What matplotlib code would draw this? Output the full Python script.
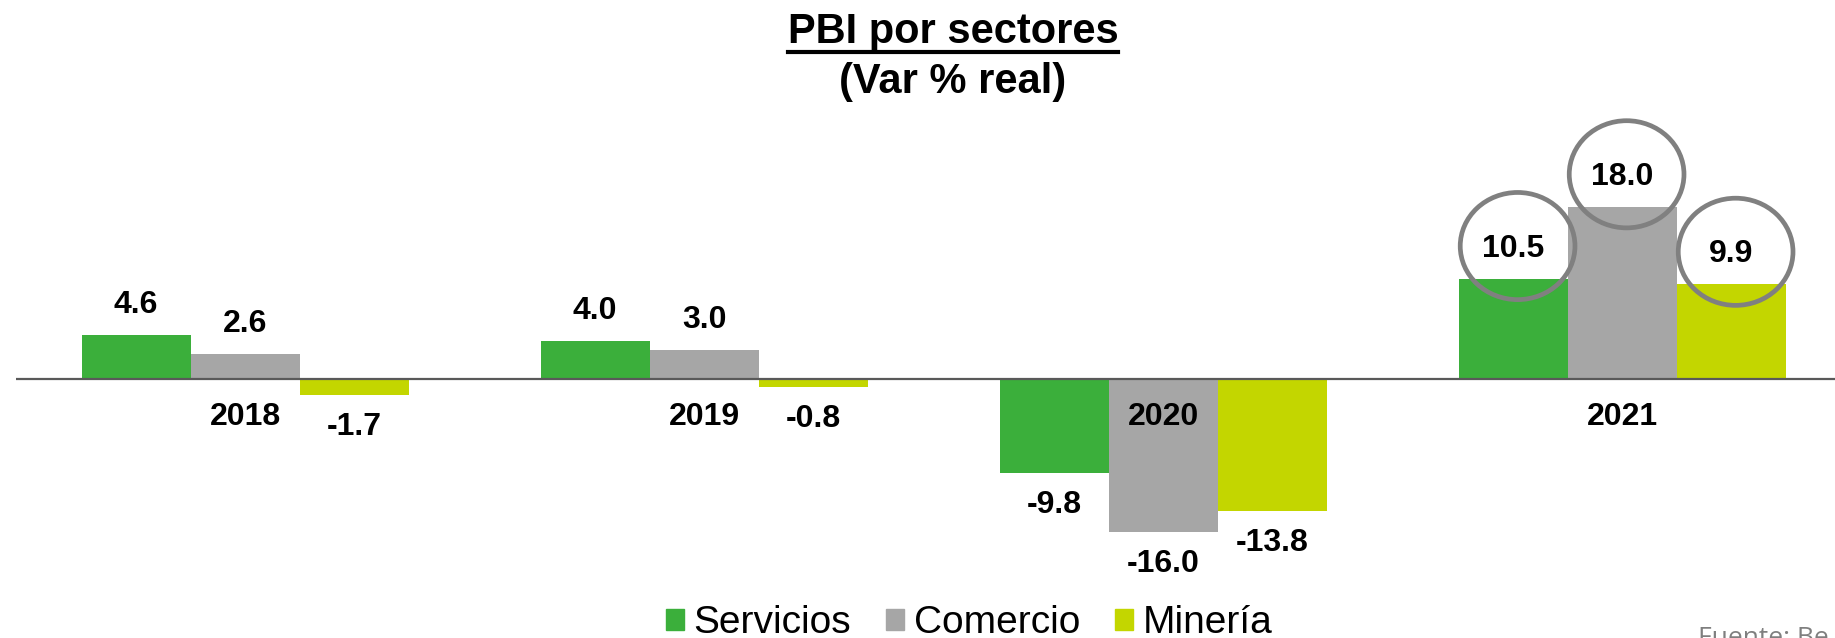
import numpy as np
import matplotlib
matplotlib.use("Agg")
import matplotlib.pyplot as plt
from matplotlib.patches import Patch, Ellipse

# datos
years = ["2018", "2019", "2020", "2021"]
sectores = ["Servicios", "Comercio", "Minería"]
servicios = [4.6, 4.0, -9.8, 10.5]
comercio = [2.6, 3.0, -16.0, 18.0]
mineria = [-1.7, -0.8, -13.8, 9.9]
colores = ["#3BAF3B", "#A6A6A6", "#C3D600"]
resaltar = ["2021"]

plt.rcParams["font.family"] = ["Liberation Sans", "DejaVu Sans"]

fig = plt.figure(figsize=(18.35, 6.38), dpi=100)
ax = fig.add_axes([16 / 1835, 0.0596, 1 - 16 / 1835, 0.7914])

x = np.arange(len(years))
w = 0.2375
series = [servicios, comercio, mineria]

for k, (vals, col) in enumerate(zip(series, colores)):
    xs = x + (k - 1) * w
    ax.bar(xs, vals, width=w, color=col, zorder=2)
    for xi, v, yr in zip(xs, vals, years):
        off = 21.5 if v >= 0 else -23
        ax.annotate(f"{v:.1f}", (xi, v), xytext=(0, off), textcoords="offset points",
                    ha="center", va="center", fontsize=23, fontweight="bold", zorder=4)
        if yr in resaltar:
            ax.add_patch(Ellipse((xi + 0.01, v + 3.4), 0.25, 11.2, fill=False,
                                 edgecolor="#808080", lw=3.4, zorder=5))

for xi, yr in zip(x, years):
    ax.text(xi, -4.0, yr, ha="center", va="center", fontsize=23,
            fontweight="bold", zorder=4)

ax.axhline(0, color="#595959", lw=1.6, zorder=3)
ax.set_xlim(-0.499, 3.464)
ax.set_ylim(-23.09, 29.68)
ax.axis("off")

# titulo
t = fig.text(953 / 1835, 1 - 32 / 638, "PBI por sectores", ha="center", va="center",
             fontsize=30, fontweight="bold")
fig.text(953 / 1835, 1 - 82 / 638, "(Var % real)", ha="center", va="center",
         fontsize=30, fontweight="bold")
fig.canvas.draw()
bb = t.get_window_extent().transformed(fig.transFigure.inverted())
fig.add_artist(plt.Line2D([bb.x0, bb.x1], [1 - 52 / 638, 1 - 52 / 638],
                          color="black", lw=3))

handles = [Patch(color=c, label=s) for c, s in zip(colores, sectores)]
fig.legend(handles=handles, loc="center", bbox_to_anchor=(969 / 1835, 1 - 623 / 638),
           ncol=3, frameon=False, fontsize=28,
           handlelength=0.46, handleheight=0.46, handletextpad=0.25,
           columnspacing=0.9, borderpad=0)

fig.text(1698 / 1835, 1 - 626 / 638, "Fuente: Be", ha="left", va="top",
         fontsize=19, color="#7F7F7F", family=["Open Sans", "DejaVu Sans"])

fig.savefig("out.png", dpi=100)
